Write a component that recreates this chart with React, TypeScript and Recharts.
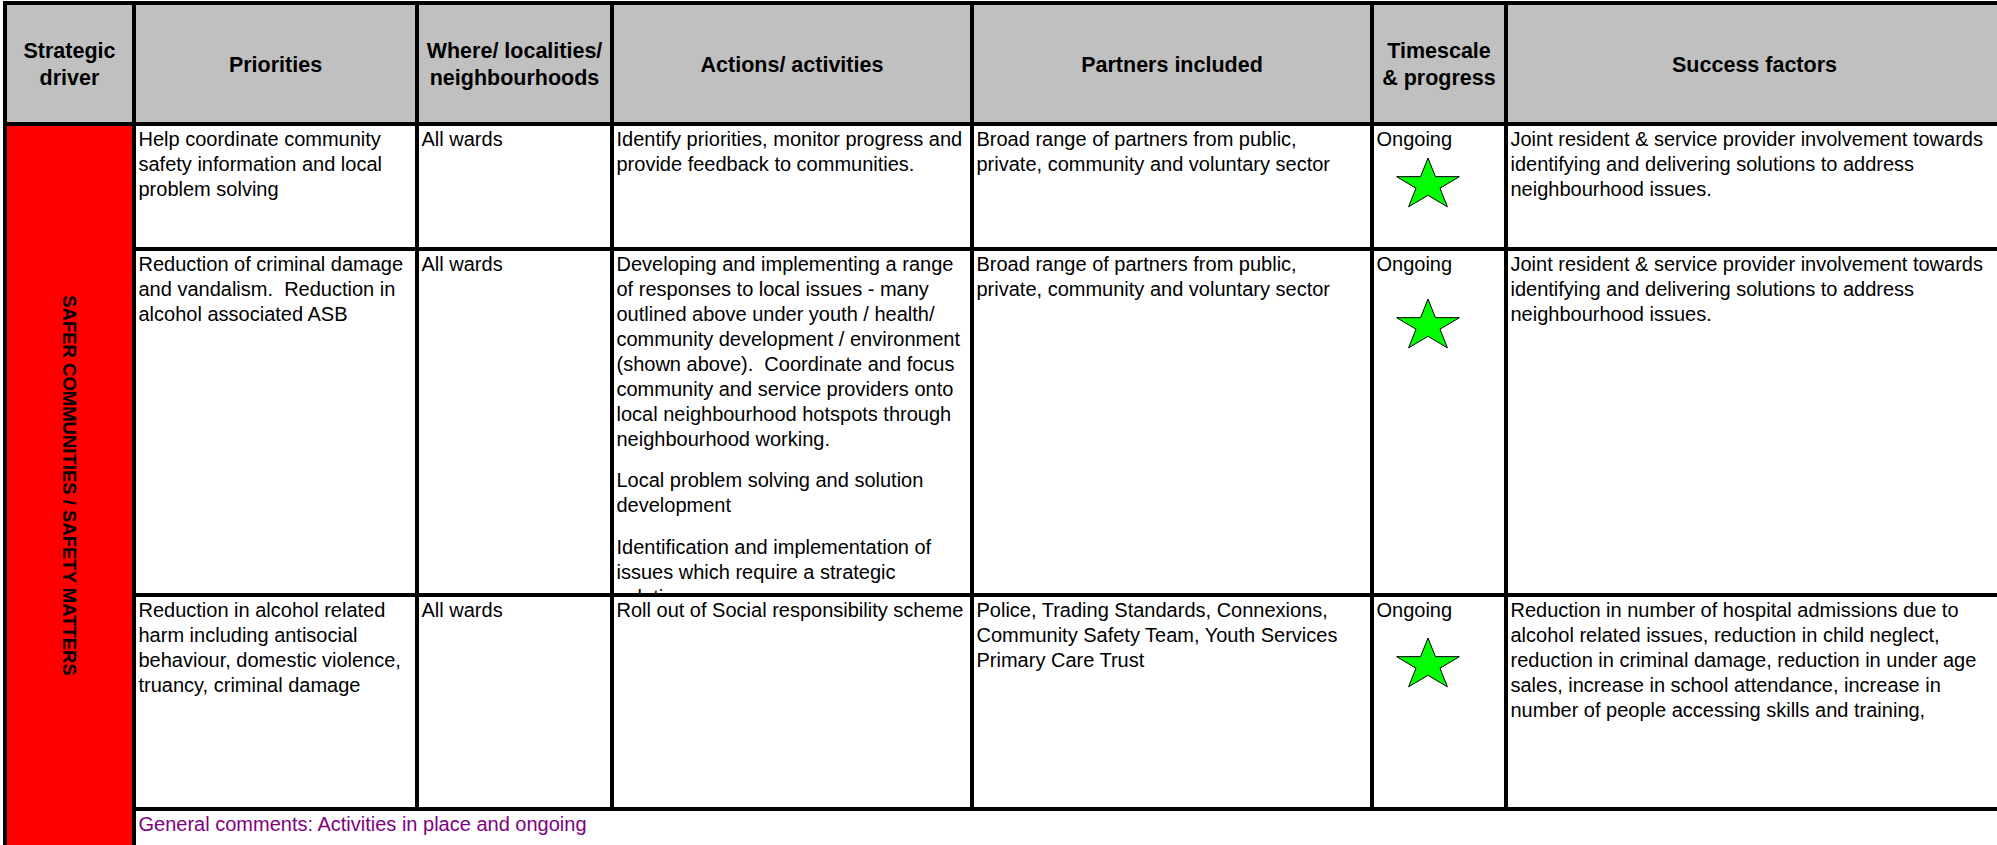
import React from 'react';
import { ScatterChart, XAxis, YAxis, Scatter, ReferenceArea } from 'recharts';

// ---------- content ----------
const headers = [
  'Strategic\ndriver',
  'Priorities',
  'Where/ localities/\nneighbourhoods',
  'Actions/ activities',
  'Partners included',
  'Timescale\n& progress',
  'Success factors',
];

const strategicDriver = 'SAFER COMMUNITIES / SAFETY MATTERS';

const priorities = [
  'Help coordinate community\nsafety information and local\nproblem solving',
  'Reduction of criminal damage\nand vandalism.  Reduction in\nalcohol associated ASB',
  'Reduction in alcohol related\nharm including antisocial\nbehaviour, domestic violence,\ntruancy, criminal damage',
];

const localities = ['All wards', 'All wards', 'All wards'];

const actions = [
  'Identify priorities, monitor progress and\nprovide feedback to communities.',
  'Developing and implementing a range\nof responses to local issues - many\noutlined above under youth / health/\ncommunity development / environment\n(shown above).  Coordinate and focus\ncommunity and service providers onto\nlocal neighbourhood hotspots through\nneighbourhood working.\n\nLocal problem solving and solution\ndevelopment\n\nIdentification and implementation of\nissues which require a strategic\nsolution',
  'Roll out of Social responsibility scheme',
];

const partners = [
  'Broad range of partners from public,\nprivate, community and voluntary sector',
  'Broad range of partners from public,\nprivate, community and voluntary sector',
  'Police, Trading Standards, Connexions,\nCommunity Safety Team, Youth Services\nPrimary Care Trust',
];

const timescales = ['Ongoing', 'Ongoing', 'Ongoing'];

const progress = ['green', 'green', 'green'];

const successFactors = [
  'Joint resident & service provider involvement towards\nidentifying and delivering solutions to address\nneighbourhood issues.',
  'Joint resident & service provider involvement towards\nidentifying and delivering solutions to address\nneighbourhood issues.',
  'Reduction in number of hospital admissions due to\nalcohol related issues, reduction in child neglect,\nreduction in criminal damage, reduction in under age\nsales, increase in school attendance, increase in\nnumber of people accessing skills and training,',
];

const generalComment = 'General comments: Activities in place and ongoing';

// ---------- layout ----------
const W = 1997;
const H = 845;
const RULE = 4;
const COL_LINES = [3, 132, 415, 610, 970, 1370, 1504];
const TABLE_RIGHT = 2001;
const ROW_LINES = [1, 122, 247, 593, 807];
const STAR_DX = 54;
const STAR_OFFSET = [59, 75, 68];
const STAR_RX = 33;
const STAR_RY = 27;
const FONT = '"Liberation Sans", Arial, Helvetica, sans-serif';
const BODY_SIZE = 20;
const BODY_LINE = 25;
const PARA_GAP = 16.7;
const HEAD_SIZE = 21.5;
const HEAD_LINE = 27;
const GRAY = '#c0c0c0';
const RED = '#ff0000';
const GREEN = '#00ff00';
const PURPLE = '#800080';

const colLeft = (c: number) => COL_LINES[c] + RULE;
const colRight = (c: number) => (c < COL_LINES.length - 1 ? COL_LINES[c + 1] : TABLE_RIGHT);
const rowTop = (r: number) => ROW_LINES[r] + RULE;
const rowBottom = (r: number) => ROW_LINES[r + 1];

const bodyColumns = [priorities, localities, actions, partners, timescales, successFactors];

const starData = progress.map((status, i) => ({
  x: colLeft(5) + STAR_DX,
  y: rowTop(i + 1) + STAR_OFFSET[i],
  status,
}));

// ---------- renderers ----------
function bodyText(p: any, text: string, id: string, color = '#000') {
  const { x, y, width, height } = p;
  const paras = text.split('\n\n');
  const out: any[] = [];
  let base = y + 19.5;
  paras.forEach((para, pi) => {
    const lines = para.split('\n');
    lines.forEach((ln, li) => {
      out.push(
        <text
          key={`${pi}-${li}`}
          x={x + 2.5}
          y={base}
          fontFamily={FONT}
          fontSize={BODY_SIZE}
          fill={color}
          style={{ whiteSpace: 'pre' }}
        >
          {ln}
        </text>
      );
      base += BODY_LINE;
    });
    base += PARA_GAP;
  });
  return (
    <g>
      <defs>
        <clipPath id={id}>
          <rect x={x} y={y} width={width} height={height} />
        </clipPath>
      </defs>
      <rect x={x} y={y} width={width} height={height} fill="#fff" />
      <g clipPath={`url(#${id})`}>{out}</g>
    </g>
  );
}

function headerText(p: any, text: string) {
  const { x, y, width, height } = p;
  const lines = text.split('\n');
  const cy = y + height / 2;
  return (
    <g>
      <rect x={x} y={y} width={width} height={height} fill={GRAY} />
      {lines.map((ln, k) => (
        <text
          key={k}
          x={x + width / 2}
          y={cy + 8 + (k - (lines.length - 1) / 2) * HEAD_LINE}
          textAnchor="middle"
          fontFamily={FONT}
          fontSize={HEAD_SIZE}
          fontWeight="bold"
          fill="#000"
        >
          {ln}
        </text>
      ))}
    </g>
  );
}

function driverCell(p: any) {
  const { x, y, width, height } = p;
  const cx = x + width / 2;
  const cy = y + height / 2;
  return (
    <g>
      <rect x={x} y={y} width={width} height={height} fill={RED} />
      <text
        x={cx}
        y={cy}
        transform={`rotate(90 ${cx} ${cy})`}
        textAnchor="middle"
        dominantBaseline="central"
        fontFamily={FONT}
        fontSize={18.5}
        fontWeight="bold"
        fill="#000"
      >
        {strategicDriver}
      </text>
    </g>
  );
}

function StarShape(props: any) {
  const { cx, cy } = props;
  if (cx == null || cy == null) return <g />;
  const pts: string[] = [];
  for (let i = 0; i < 10; i++) {
    const a = (-90 + i * 36) * (Math.PI / 180);
    const r = i % 2 === 0 ? 1 : 0.382;
    pts.push(`${cx + STAR_RX * r * Math.cos(a)},${cy + STAR_RY * r * Math.sin(a)}`);
  }
  return <polygon points={pts.join(' ')} fill={GREEN} stroke="#000" strokeWidth={1} />;
}

const blackRect = (p: any) => <rect x={p.x} y={p.y} width={p.width} height={p.height} fill="#000" />;

export default function App() {
  const areas: any[] = [];

  // header cells
  headers.forEach((h, c) => {
    areas.push(
      <ReferenceArea
        key={`h${c}`}
        x1={colLeft(c)}
        x2={colRight(c)}
        y1={rowTop(0)}
        y2={rowBottom(0)}
        ifOverflow="visible"
        shape={(p: any) => headerText(p, h)}
      />
    );
  });

  // driver column
  areas.push(
    <ReferenceArea
      key="driver"
      x1={colLeft(0)}
      x2={colRight(0)}
      y1={rowTop(1)}
      y2={H}
      ifOverflow="visible"
      shape={(p: any) => driverCell(p)}
    />
  );

  // body cells
  for (let r = 0; r < 3; r++) {
    bodyColumns.forEach((col, ci) => {
      const c = ci + 1;
      const id = `clip-r${r}-c${c}`;
      areas.push(
        <ReferenceArea
          key={`b${r}-${c}`}
          x1={colLeft(c)}
          x2={colRight(c)}
          y1={rowTop(r + 1)}
          y2={rowBottom(r + 1)}
          ifOverflow="visible"
          shape={(p: any) => bodyText(p, col[r], id)}
        />
      );
    });
  }

  // comment row
  areas.push(
    <ReferenceArea
      key="comment"
      x1={colLeft(1)}
      x2={TABLE_RIGHT}
      y1={rowTop(4)}
      y2={H}
      ifOverflow="visible"
      shape={(p: any) => bodyText(p, generalComment, 'clip-comment', PURPLE)}
    />
  );

  // horizontal rules
  ROW_LINES.forEach((yl, i) => {
    const xStart = i <= 1 ? COL_LINES[0] : COL_LINES[1];
    areas.push(
      <ReferenceArea
        key={`hr${i}`}
        x1={xStart}
        x2={TABLE_RIGHT}
        y1={yl}
        y2={yl + RULE}
        ifOverflow="visible"
        shape={blackRect}
      />
    );
  });

  // vertical rules
  COL_LINES.forEach((xl, i) => {
    const yEnd = i <= 1 ? H : ROW_LINES[4] + RULE;
    areas.push(
      <ReferenceArea
        key={`vr${i}`}
        x1={xl}
        x2={xl + RULE}
        y1={ROW_LINES[0]}
        y2={yEnd}
        ifOverflow="visible"
        shape={blackRect}
      />
    );
  });

  return (
    <div style={{ position: 'absolute', left: 0, top: 0, width: W, height: H, background: '#fff' }}>
      <ScatterChart width={W} height={H} margin={{ top: 0, right: 0, bottom: 0, left: 0 }}>
        <XAxis type="number" dataKey="x" domain={[0, W]} hide allowDataOverflow />
        <YAxis type="number" dataKey="y" domain={[0, H]} reversed hide allowDataOverflow />
        {areas}
        <Scatter data={starData} isAnimationActive={false} shape={StarShape} />
      </ScatterChart>
    </div>
  );
}
